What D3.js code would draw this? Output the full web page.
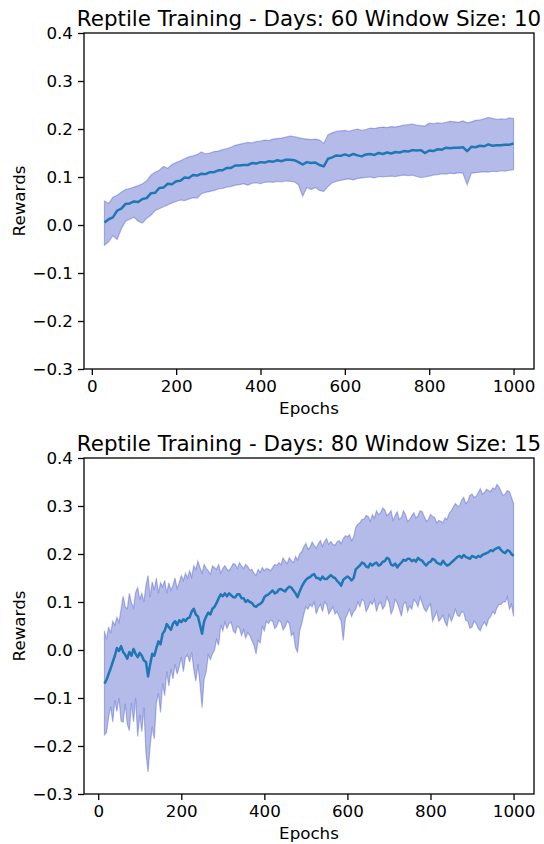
<!DOCTYPE html>
<html>
<head>
<meta charset="utf-8">
<script src="https://cdn.jsdelivr.net/npm/d3@7"></script>
<style>
  body { margin: 0; background: #fff; }
  svg { display: block; font-family: "DejaVu Sans", sans-serif; }
</style>
</head>
<body>
<svg id="chart" width="544" height="844"></svg>
<script>
/* globals d3 */

// ---- data ----
var titles = [
  'Reptile Training - Days: 60 Window Size: 10',
  'Reptile Training - Days: 80 Window Size: 15'
];
var yTicks = [-0.3, -0.2, -0.1, 0.0, 0.1, 0.2, 0.3, 0.4];
var xTicks = [0, 200, 400, 600, 800, 1000];

// run 1: epochs 30..1000 every 10
var epochs1 = d3.range(30, 1001, 10);
var mean1 = [0.005, 0.012, 0.016, 0.030, 0.034, 0.044, 0.045, 0.049, 0.048, 0.054, 0.056, 0.066,
  0.067, 0.077, 0.078, 0.086, 0.085, 0.091, 0.092, 0.099, 0.098, 0.104, 0.103, 0.107, 0.106, 0.110,
  0.110, 0.114, 0.114, 0.119, 0.119, 0.124, 0.124, 0.125, 0.125, 0.129, 0.128, 0.131, 0.130, 0.133,
  0.132, 0.135, 0.133, 0.136, 0.136, 0.135, 0.131, 0.126, 0.131, 0.129, 0.130, 0.125, 0.122, 0.138,
  0.141, 0.145, 0.144, 0.147, 0.144, 0.148, 0.145, 0.143, 0.147, 0.148, 0.146, 0.150, 0.148, 0.151,
  0.149, 0.152, 0.151, 0.154, 0.153, 0.156, 0.155, 0.156, 0.150, 0.155, 0.154, 0.158, 0.157, 0.161,
  0.160, 0.161, 0.161, 0.162, 0.154, 0.163, 0.162, 0.165, 0.164, 0.168, 0.165, 0.166, 0.166, 0.167,
  0.167, 0.170];
var upper1 = [0.050, 0.045, 0.058, 0.062, 0.068, 0.074, 0.076, 0.079, 0.082, 0.086, 0.092, 0.104,
  0.110, 0.114, 0.122, 0.118, 0.126, 0.130, 0.134, 0.138, 0.142, 0.144, 0.147, 0.152, 0.148, 0.150,
  0.153, 0.154, 0.157, 0.159, 0.162, 0.166, 0.168, 0.170, 0.172, 0.171, 0.174, 0.175, 0.177, 0.176,
  0.179, 0.180, 0.181, 0.183, 0.185, 0.184, 0.182, 0.180, 0.179, 0.178, 0.179, 0.177, 0.170, 0.188,
  0.192, 0.195, 0.196, 0.197, 0.195, 0.198, 0.200, 0.197, 0.199, 0.202, 0.201, 0.203, 0.204, 0.203,
  0.205, 0.204, 0.206, 0.208, 0.209, 0.210, 0.208, 0.207, 0.206, 0.212, 0.211, 0.213, 0.212, 0.214,
  0.216, 0.215, 0.214, 0.217, 0.213, 0.215, 0.218, 0.219, 0.221, 0.224, 0.222, 0.220, 0.221, 0.220,
  0.223, 0.222];
var lower1 = [-0.042, -0.035, -0.022, -0.030, -0.008, 0.008, 0.012, 0.016, 0.008, 0.004, 0.014, 0.020,
  0.030, 0.034, 0.038, 0.042, 0.046, 0.049, 0.052, 0.051, 0.054, 0.057, 0.056, 0.065, 0.068, 0.070,
  0.072, 0.075, 0.076, 0.079, 0.080, 0.083, 0.084, 0.086, 0.083, 0.087, 0.088, 0.086, 0.089, 0.090,
  0.089, 0.091, 0.090, 0.092, 0.091, 0.090, 0.084, 0.060, 0.078, 0.074, 0.078, 0.072, 0.070, 0.080,
  0.088, 0.091, 0.093, 0.095, 0.096, 0.094, 0.097, 0.098, 0.099, 0.100, 0.098, 0.101, 0.100, 0.101,
  0.102, 0.101, 0.103, 0.104, 0.103, 0.104, 0.101, 0.099, 0.100, 0.102, 0.104, 0.105, 0.107, 0.106,
  0.108, 0.107, 0.109, 0.108, 0.084, 0.108, 0.109, 0.110, 0.111, 0.110, 0.112, 0.111, 0.113, 0.112,
  0.114, 0.115];

// run 2: epochs 15..1000 every 5
var epochs2 = d3.range(15, 1001, 5);
var mean2 = [
  -0.070, -0.062, -0.050, -0.038, -0.025, -0.012, 0.004, -0.002, 0.008, -0.004,
  -0.010, -0.018, -0.004, -0.012, 0.002, -0.008, -0.015, -0.006, -0.012, -0.022,
  -0.025, -0.055, -0.030, -0.008, -0.012, 0.004, 0.018, 0.012, 0.034, 0.040,
  0.054, 0.048, 0.042, 0.055, 0.060, 0.052, 0.062, 0.058, 0.064, 0.060,
  0.066, 0.068, 0.080, 0.086, 0.074, 0.070, 0.052, 0.034, 0.060, 0.070,
  0.078, 0.074, 0.086, 0.090, 0.098, 0.108, 0.116, 0.112, 0.118, 0.112,
  0.118, 0.114, 0.110, 0.110, 0.116, 0.116, 0.108, 0.108, 0.100, 0.104,
  0.100, 0.098, 0.092, 0.090, 0.094, 0.096, 0.100, 0.110, 0.114, 0.116,
  0.120, 0.124, 0.118, 0.120, 0.126, 0.127, 0.124, 0.122, 0.128, 0.132,
  0.130, 0.124, 0.118, 0.110, 0.122, 0.132, 0.140, 0.146, 0.150, 0.152,
  0.156, 0.158, 0.150, 0.150, 0.146, 0.153, 0.148, 0.148, 0.152, 0.156,
  0.152, 0.150, 0.144, 0.140, 0.134, 0.146, 0.150, 0.153, 0.150, 0.145,
  0.150, 0.168, 0.172, 0.176, 0.182, 0.180, 0.174, 0.172, 0.180, 0.176,
  0.180, 0.182, 0.176, 0.178, 0.184, 0.185, 0.192, 0.190, 0.178, 0.176,
  0.180, 0.172, 0.178, 0.182, 0.188, 0.186, 0.190, 0.190, 0.185, 0.188,
  0.184, 0.192, 0.188, 0.186, 0.180, 0.176, 0.182, 0.184, 0.190, 0.188,
  0.182, 0.180, 0.178, 0.186, 0.180, 0.176, 0.178, 0.182, 0.186, 0.190,
  0.194, 0.196, 0.192, 0.198, 0.194, 0.192, 0.190, 0.196, 0.194, 0.192,
  0.196, 0.194, 0.198, 0.200, 0.202, 0.204, 0.208, 0.206, 0.210, 0.212,
  0.214, 0.208, 0.204, 0.202, 0.208, 0.206, 0.200, 0.196];
var upper2 = [
  0.040, 0.022, 0.048, 0.035, 0.060, 0.052, 0.068, 0.058, 0.085, 0.112,
  0.090, 0.086, 0.118, 0.098, 0.088, 0.120, 0.130, 0.105, 0.118, 0.100,
  0.135, 0.155, 0.110, 0.142, 0.125, 0.150, 0.118, 0.140, 0.132, 0.145,
  0.118, 0.140, 0.125, 0.135, 0.150, 0.128, 0.140, 0.155, 0.145, 0.160,
  0.150, 0.165, 0.152, 0.175, 0.168, 0.185, 0.172, 0.160, 0.178, 0.170,
  0.165, 0.158, 0.175, 0.172, 0.168, 0.178, 0.160, 0.170, 0.176, 0.168,
  0.165, 0.172, 0.180, 0.178, 0.170, 0.182, 0.175, 0.170, 0.178, 0.174,
  0.166, 0.168, 0.160, 0.155, 0.168, 0.162, 0.172, 0.165, 0.170, 0.168,
  0.165, 0.172, 0.178, 0.176, 0.182, 0.178, 0.192, 0.185, 0.180, 0.192,
  0.186, 0.182, 0.195, 0.188, 0.200, 0.205, 0.215, 0.222, 0.210, 0.214,
  0.225, 0.218, 0.212, 0.222, 0.228, 0.216, 0.226, 0.232, 0.220, 0.226,
  0.220, 0.218, 0.225, 0.228, 0.222, 0.232, 0.238, 0.236, 0.240, 0.228,
  0.235, 0.255, 0.262, 0.265, 0.272, 0.272, 0.280, 0.278, 0.268, 0.282,
  0.275, 0.290, 0.282, 0.286, 0.296, 0.292, 0.280, 0.284, 0.290, 0.270,
  0.280, 0.288, 0.272, 0.276, 0.290, 0.282, 0.268, 0.272, 0.280, 0.286,
  0.275, 0.280, 0.290, 0.288, 0.278, 0.268, 0.272, 0.282, 0.278, 0.276,
  0.265, 0.270, 0.268, 0.265, 0.275, 0.272, 0.285, 0.290, 0.298, 0.305,
  0.300, 0.300, 0.312, 0.318, 0.305, 0.310, 0.322, 0.325, 0.318, 0.320,
  0.328, 0.336, 0.325, 0.328, 0.335, 0.332, 0.330, 0.338, 0.335, 0.345,
  0.340, 0.330, 0.322, 0.325, 0.332, 0.330, 0.318, 0.305];
var lower2 = [
  -0.177, -0.172, -0.140, -0.118, -0.150, -0.105, -0.128, -0.100, -0.148, -0.150,
  -0.112, -0.155, -0.168, -0.110, -0.150, -0.100, -0.180, -0.135, -0.170, -0.120,
  -0.215, -0.254, -0.200, -0.160, -0.185, -0.110, -0.090, -0.130, -0.070, -0.095,
  -0.045, -0.075, -0.040, -0.060, -0.030, -0.050, -0.035, -0.015, -0.045, -0.015,
  -0.010, -0.025, -0.005, -0.040, -0.065, -0.030, -0.070, -0.120, -0.060, -0.045,
  -0.010, -0.020, -0.008, 0.000, 0.022, 0.010, 0.052, 0.040, 0.058, 0.045,
  0.055, 0.058, 0.040, 0.035, 0.050, 0.046, 0.030, 0.042, 0.025, 0.036,
  0.030, 0.020, 0.010, -0.008, 0.020, 0.015, 0.048, 0.040, 0.060, 0.055,
  0.062, 0.060, 0.045, 0.050, 0.062, 0.058, 0.042, 0.048, 0.060, 0.055,
  0.030, 0.035, 0.005, -0.005, 0.040, 0.055, 0.075, 0.090, 0.085, 0.095,
  0.090, 0.100, 0.075, 0.088, 0.095, 0.080, 0.100, 0.095, 0.075, 0.082,
  0.090, 0.075, 0.080, 0.070, 0.060, 0.020, 0.065, 0.075, 0.085, 0.070,
  0.080, 0.085, 0.100, 0.090, 0.105, 0.102, 0.080, 0.088, 0.100, 0.095,
  0.105, 0.080, 0.095, 0.100, 0.085, 0.092, 0.110, 0.100, 0.075, 0.085,
  0.105, 0.098, 0.085, 0.070, 0.095, 0.100, 0.080, 0.092, 0.085, 0.105,
  0.100, 0.090, 0.110, 0.098, 0.085, 0.080, 0.090, 0.096, 0.060, 0.070,
  0.080, 0.060, 0.065, 0.072, 0.058, 0.050, 0.075, 0.060, 0.070, 0.085,
  0.072, 0.070, 0.080, 0.078, 0.062, 0.060, 0.045, 0.048, 0.060, 0.055,
  0.045, 0.040, 0.052, 0.058, 0.050, 0.065, 0.070, 0.080, 0.075, 0.088,
  0.095, 0.095, 0.100, 0.100, 0.110, 0.085, 0.095, 0.070];

var runs = [
  { title: titles[0], epochs: epochs1, mean: mean1, upper: upper1, lower: lower1, top: 33 },
  { title: titles[1], epochs: epochs2, mean: mean2, upper: upper2, lower: lower2, top: 458 }
];

// ---- layout (matplotlib-ish at 120 dpi) ----
var left = 84, plotW = 450, plotH = 336;
var tickFont = 16.7, titleFont = 21.4;

var svg = d3.select('#chart');

runs.forEach(drawPanel);

function drawPanel(run) {
  var g = svg.append('g').attr('transform', 'translate(' + left + ',' + run.top + ')');

  // autoscale like matplotlib: 5% margin on x
  var ext = d3.extent(run.epochs),
      pad = (ext[1] - ext[0]) * 0.05;

  var x = d3.scaleLinear().domain([ext[0] - pad, ext[1] + pad]).range([0, plotW]);
  var y = d3.scaleLinear().domain([-0.3, 0.4]).range([plotH, 0]);

  var rows = run.epochs.map(function (e, i) {
    return { e: e, m: run.mean[i], hi: run.upper[i], lo: run.lower[i] };
  });

  // std band
  var area = d3.area()
    .x(function (d) { return x(d.e); })
    .y0(function (d) { return y(d.lo); })
    .y1(function (d) { return y(d.hi); });

  g.append('path')
    .datum(rows)
    .attr('d', area)
    .attr('fill', '#4355c5')
    .attr('fill-opacity', 0.4)
    .attr('stroke', '#4355c5')
    .attr('stroke-opacity', 0.4)
    .attr('stroke-width', 1.2);

  // mean reward
  var line = d3.line()
    .x(function (d) { return x(d.e); })
    .y(function (d) { return y(d.m); });

  g.append('path')
    .datum(rows)
    .attr('d', line)
    .attr('fill', 'none')
    .attr('stroke', '#1f77b4')
    .attr('stroke-width', 2.5)
    .attr('stroke-linejoin', 'round');

  // axes
  var yAxis = d3.axisLeft(y).tickValues(yTicks).tickFormat(d3.format('.1f'))
    .tickSize(6).tickPadding(5);
  var xAxis = d3.axisBottom(x).tickValues(xTicks).tickFormat(d3.format('d'))
    .tickSize(6).tickPadding(5);

  var gy = g.append('g').call(yAxis);
  var gx = g.append('g').attr('transform', 'translate(0,' + plotH + ')').call(xAxis);

  [gx, gy].forEach(function (a) {
    a.select('.domain').remove();
    a.selectAll('.tick line').attr('stroke', '#000').attr('stroke-width', 1.3);
    a.selectAll('.tick text')
      .attr('fill', '#000')
      .style('font-size', tickFont + 'px')
      .style('font-family', '"DejaVu Sans", sans-serif');
  });

  // spines
  g.append('rect')
    .attr('width', plotW)
    .attr('height', plotH)
    .attr('fill', 'none')
    .attr('stroke', '#000')
    .attr('stroke-width', 1.3);

  // labels
  g.append('text')
    .attr('x', plotW / 2)
    .attr('y', -7)
    .attr('text-anchor', 'middle')
    .style('font-size', titleFont + 'px')
    .text(run.title);

  g.append('text')
    .attr('x', plotW / 2)
    .attr('y', plotH + 45)
    .attr('text-anchor', 'middle')
    .style('font-size', tickFont + 'px')
    .text('Epochs');

  g.append('text')
    .attr('transform', 'translate(' + (25 - left) + ',' + (plotH / 2) + ') rotate(-90)')
    .attr('text-anchor', 'middle')
    .style('font-size', tickFont + 'px')
    .text('Rewards');
}
</script>
</body>
</html>
